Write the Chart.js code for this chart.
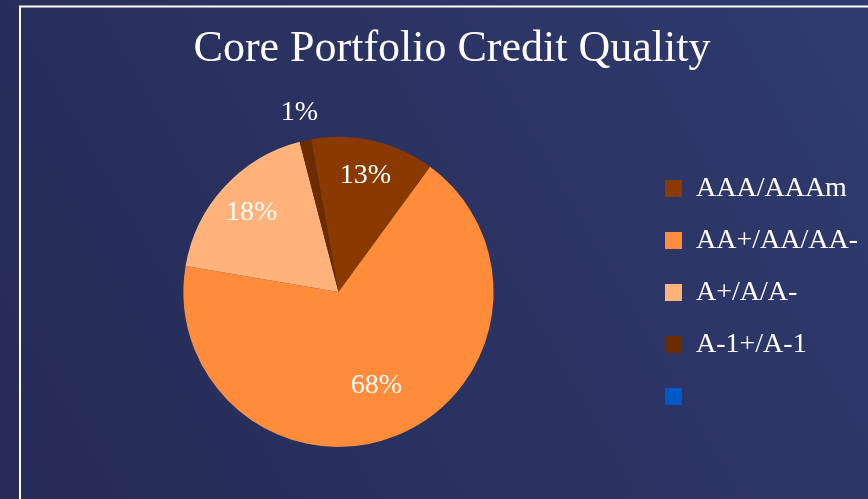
<!DOCTYPE html>
<html>
<head>
  <title>Core Portfolio Credit Quality</title>
  <script src="https://cdn.jsdelivr.net/npm/chart.js@4.4.0/dist/chart.umd.min.js"></script>
  <style>
    body { margin: 0; background: #2a3160; }
    canvas { display: block; }
  </style>
</head>
<body>
  <canvas id="pieChart" width="868" height="499"></canvas>

  <script>
    // chart data
    const categories = ['AAA/AAAm', 'AA+/AA/AA-', 'A+/A/A-', 'A-1+/A-1', ''];
    const shares = [12.9, 67.6, 18.3, 1.2, 0];
    const sliceColors = ['#8a3a00', '#ff8c3a', '#ffb27a', '#6b2d00', '#0057c8'];

    // navy gradient + white frame behind everything
    const backdrop = {
      id: 'backdrop',
      beforeDraw(chart) {
        const { ctx, width, height } = chart;
        ctx.save();
        const g = ctx.createLinearGradient(0, height, width, 0);
        g.addColorStop(0, '#252b55');
        g.addColorStop(1, '#2f3a6e');
        ctx.fillStyle = g;
        ctx.fillRect(0, 0, width, height);
        ctx.strokeStyle = '#ffffff';
        ctx.lineWidth = 2;
        ctx.beginPath();
        ctx.moveTo(width, 6.5);
        ctx.lineTo(20, 6.5);
        ctx.lineTo(20, height);
        ctx.stroke();
        ctx.restore();
      }
    };

    // percent labels on the slices, small slices get theirs outside
    const percentLabels = {
      id: 'percentLabels',
      afterDatasetsDraw(chart) {
        const { ctx } = chart;
        const meta = chart.getDatasetMeta(0);
        const total = shares.reduce((a, b) => a + b, 0);
        ctx.save();
        ctx.fillStyle = '#ffffff';
        ctx.font = '28px "Liberation Serif", serif';
        ctx.textAlign = 'center';
        ctx.textBaseline = 'middle';
        meta.data.forEach((arc, i) => {
          const v = shares[i];
          if (!v) return;
          const share = v / total;
          const p = arc.getProps(['x', 'y', 'startAngle', 'endAngle', 'outerRadius'], true);
          const mid = (p.startAngle + p.endAngle) / 2;
          const r = share < 0.03 ? p.outerRadius * 1.18 : p.outerRadius * (0.8 - share * 0.22);
          ctx.fillText(Math.round(share * 100) + '%', p.x + Math.cos(mid) * r, p.y + Math.sin(mid) * r);
        });
        ctx.restore();
      }
    };

    new Chart(document.getElementById('pieChart'), {
      type: 'pie',
      data: {
        labels: categories,
        datasets: [{
          data: shares,
          backgroundColor: sliceColors,
          borderWidth: 0
        }]
      },
      options: {
        responsive: false,
        animation: false,
        rotation: -10.2,
        layout: { padding: { left: 36, right: 0, top: 0, bottom: 52 } },
        plugins: {
          title: {
            display: true,
            text: 'Core Portfolio Credit Quality',
            color: '#ffffff',
            font: { family: '"Liberation Serif", serif', size: 44, weight: 'normal' },
            padding: { top: 23, bottom: 61 }
          },
          legend: {
            position: 'right',
            title: {
              display: true,
              text: ' ',
              font: { size: 10 },
              padding: { top: 63, bottom: 63 }
            },
            labels: {
              color: '#ffffff',
              font: { family: '"Liberation Serif", serif', size: 28 },
              boxWidth: 17,
              boxHeight: 17,
              padding: 24
            }
          },
          tooltip: { enabled: false }
        }
      },
      plugins: [backdrop, percentLabels]
    });
  </script>
</body>
</html>
